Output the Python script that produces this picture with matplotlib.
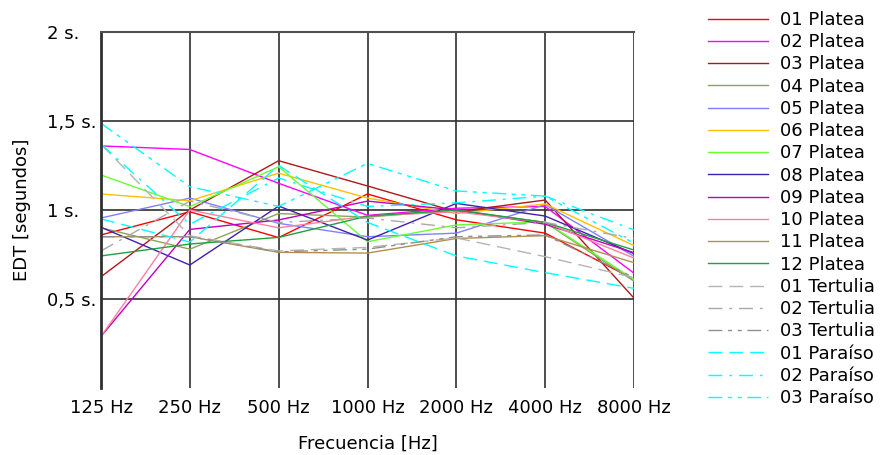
import matplotlib
matplotlib.use("Agg")
import matplotlib.pyplot as plt

freqs = ['125 Hz', '250 Hz', '500 Hz', '1000 Hz', '2000 Hz', '4000 Hz', '8000 Hz']

p01 = [0.86, 0.99, 0.845, 1.09, 0.945, 0.87, 0.61]
p02 = [1.36, 1.34, 1.15, 0.97, 1.01, 1.02, 0.645]
p03 = [0.625, 1.0, 1.277, 1.135, 0.99, 1.056, 0.505]
p04 = [0.90, 0.78, 0.98, 0.96, 1.0, 0.93, 0.60]
p05 = [0.955, 1.067, 0.925, 0.85, 0.87, 1.03, 0.74]
p06 = [1.09, 1.052, 1.207, 1.067, 0.98, 1.034, 0.80]
p07 = [1.197, 1.019, 1.243, 0.822, 0.916, 0.934, 0.61]
p08 = [0.903, 0.691, 1.022, 0.831, 1.037, 0.966, 0.755]
p09 = [0.29, 0.891, 0.944, 1.05, 1.0, 0.92, 0.76]
p10 = [0.29, 1.0, 0.90, 0.966, 0.99, 0.93, 0.73]
p11 = [0.85, 0.85, 0.762, 0.758, 0.84, 0.856, 0.704]
p12 = [0.742, 0.809, 0.846, 0.966, 1.0, 0.93, 0.775]
t01 = [1.37, 0.855, 0.77, 0.79, 0.843, 0.738, 0.62]
t02 = [0.77, 1.05, 0.93, 0.955, 0.90, 0.93, 0.84]
t03 = [0.85, 0.85, 0.765, 0.78, 0.85, 0.86, 0.62]
par01 = [0.95, 0.82, 1.25, 0.93, 0.742, 0.648, 0.56]
par02 = [1.37, 0.92, 1.18, 1.02, 1.04, 1.078, 0.888]
par03 = [1.487, 1.131, 1.02, 1.262, 1.107, 1.078, 0.814]

labels = ['01 Platea', '02 Platea', '03 Platea', '04 Platea', '05 Platea', '06 Platea',
          '07 Platea', '08 Platea', '09 Platea', '10 Platea', '11 Platea', '12 Platea',
          '01 Tertulia', '02 Tertulia', '03 Tertulia', '01 Paraíso', '02 Paraíso', '03 Paraíso']
series = [p01, p02, p03, p04, p05, p06, p07, p08, p09, p10, p11, p12,
          t01, t02, t03, par01, par02, par03]
colors = ['#ff0000', '#ff00ff', '#b01818', '#8aa55a', '#8080ff', '#ffc000',
          '#66ff33', '#4020b0', '#c000c0', '#ff80a0', '#b09050', '#20a040',
          '#b4b4b4', '#a8a8a8', '#909090', '#00ffff', '#00ffff', '#00ffff']
long_dash = (0, (10, 5))
dash_dot = (0, (10, 5, 2, 5))
dash_dd = (0, (10, 4, 3, 4, 3, 4))
styles = ['-'] * 12 + [long_dash, dash_dot, dash_dd, long_dash, dash_dot, dash_dd]

FS = 13
fig = plt.figure(figsize=(8.83, 4.55), dpi=100)
W, H = 883, 455
ax = fig.add_axes([101 / W, 1 - 388 / H, (634 - 101) / W, (388 - 32) / H])

x = list(range(len(freqs)))
for s, lab, c, ls in zip(series, labels, colors, styles):
    ax.plot(x, s, color=c, linestyle=ls, linewidth=1.0, label=lab)

ax.set_xlim(0, len(freqs) - 1)
ax.set_ylim(0, 2)
ax.set_xticks(x)
ax.set_xticklabels(freqs, fontsize=FS)
ax.set_yticks([0.5, 1, 1.5, 2])
ax.set_yticklabels(['0,5 s.', '1 s.', '1,5 s.', '2 s.'], fontsize=FS)
ax.tick_params(axis='x', length=0, pad=8)
ax.tick_params(axis='y', length=0, pad=54 * 72 / 100)
for t in ax.get_yticklabels():
    t.set_horizontalalignment('left')
ax.grid(True, color='#303030', linewidth=1.2)
ax.set_axisbelow(True)
for side in ['bottom', 'right']:
    ax.spines[side].set_visible(False)
ax.spines['left'].set_linewidth(2.0)
ax.spines['left'].set_color('#303030')
ax.spines['top'].set_linewidth(1.5)
ax.spines['top'].set_color('#505050')

ax.set_ylabel('EDT [segundos]', fontsize=FS)
ax.yaxis.set_label_coords((22 - 101) / 533, 0.5)
ax.yaxis.label.set_verticalalignment('center')
ax.set_xlabel('Frecuencia [Hz]', fontsize=FS)
ax.xaxis.set_label_coords(0.5, -(444 - 388) / 356)
ax.xaxis.label.set_verticalalignment('center')

leg = fig.legend(loc='upper left', bbox_to_anchor=(708 / W, 1 - 11 / H), frameon=False,
                 fontsize=FS, handlelength=3.32, handletextpad=0.66, labelspacing=0.235,
                 borderaxespad=0, borderpad=0)

fig.savefig('out.png', dpi=100)
